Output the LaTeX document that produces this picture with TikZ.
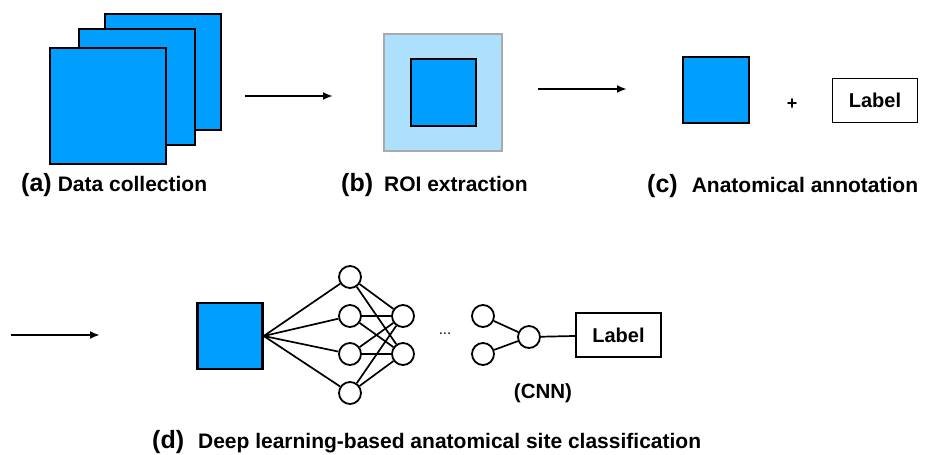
\documentclass[tikz,border=0pt]{standalone}
\usepackage{fontspec}
\setmainfont{Liberation Sans}
\usetikzlibrary{arrows.meta}
\definecolor{imgblue}{RGB}{0,158,255}
\definecolor{roiblue}{RGB}{173,224,252}
\definecolor{roigray}{RGB}{170,170,170}
\tikzset{
  imgbox/.style={draw, line width=2.5pt, fill=imgblue, inner sep=0pt,
    minimum width=#1, minimum height=#1},
  labelbox/.style={draw, line width=1.5pt, inner sep=0pt,
    minimum width=85pt, minimum height=44pt, font=\fontsize{20}{24}\selectfont\bfseries},
  neuron/.style={draw, circle, line width=1.8pt, fill=white, inner sep=0pt, minimum size=22pt},
  link/.style={line width=1.7pt},
  flow/.style={line width=2pt, -{Latex[length=10pt,width=8pt]}},
  caption/.style={anchor=base west, inner sep=0pt, font=\fontsize{21}{25}\selectfont\bfseries},
}
\newcommand{\tag}[1]{{\fontsize{25}{25}\selectfont(#1)}}
\begin{document}
\begin{tikzpicture}[x=1pt, y=-1pt]
  \useasboundingbox (0,0) rectangle (930,455);
  % (a) Datensammlung: drei Bilder gestapelt
  \node[imgbox=116pt] (imgc) at (163,72) {};
  \node[imgbox=116pt] (imgb) at (137,87) {};
  \node[imgbox=116pt] (imga) at (108,106) {};
  \node[caption] (capa) at (21,191) {\tag{a}\hspace{6pt}Data collection};
  % Pfeil a -> b
  \coordinate (a1) at (245,96);
  \coordinate (a2) at (333,96);
  \draw[flow] (a1) -- (a2);
  % (b) ROI
  \node[draw=roigray, line width=1.8pt, fill=roiblue, minimum width=118pt, minimum height=117pt] (roi) at (443,92.5) {};
  \node[imgbox=65pt, minimum height=67pt] (roiin) at (443.5,92.5) {};
  \node[caption] (capb) at (341,191) {\tag{b}\hspace{11pt}ROI extraction};
  % Pfeil b -> c
  \coordinate (b1) at (538,89);
  \coordinate (b2) at (627,89);
  \draw[flow] (b1) -- (b2);
  % (c) Annotation
  \node[imgbox=66pt] (annimg) at (716,90) {};
  \node[font=\fontsize{18}{18}\selectfont\bfseries, inner sep=0pt] (plus) at (792,104) {+};
  \node[labelbox] (lab1) at (875,100.5) {Label};
  \node[caption] (capc) at (647,192) {\tag{c}\hspace{14pt}Anatomical annotation};
  % (d) CNN
  \coordinate (c1) at (11,335);
  \coordinate (c2) at (100,335);
  \draw[flow] (c1) -- (c2);
  \node[imgbox=65pt, minimum height=66pt] (inimg) at (230,336) {};
  \foreach \i/\y in {1/277,2/316,3/354,4/393}
    \node[neuron] (h\i) at (350,\y) {};
  \foreach \j/\y in {1/316,2/354}
    \node[neuron] (k\j) at (403,\y) {};
  \foreach \j/\y in {1/316,2/354}
    \node[neuron] (p\j) at (483,\y) {};
  \node[neuron] (out) at (529,337) {};
  \node[labelbox] (lab2) at (618.5,335) {Label};
  \foreach \i in {1,...,4}
    \draw[link] (inimg.east) -- (h\i);
  \foreach \i in {1,...,4}
    \foreach \j in {1,2}
      \draw[link] (h\i) -- (k\j);
  \draw[link] (p1) -- (out);
  \draw[link] (p2) -- (out);
  \draw[link] (out) -- (lab2);
  \node[anchor=base, inner sep=0pt, font=\fontsize{15}{15}\selectfont] (dots) at (445,334) {...};
  \node[anchor=base, inner sep=0pt, font=\fontsize{20.5}{24}\selectfont\bfseries] (cnn) at (543,398) {(CNN)};
  \node[caption] (capd) at (152,448) {\tag{d}\hspace{14pt}Deep learning-based anatomical site classification};
\end{tikzpicture}
\end{document}
